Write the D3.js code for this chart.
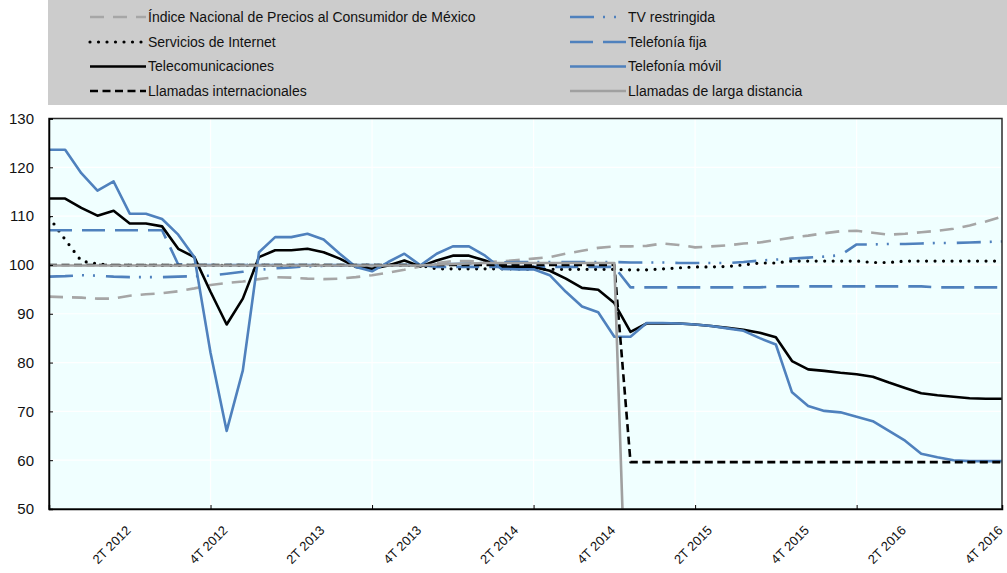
<!DOCTYPE html>
<html>
<head>
<meta charset="utf-8">
<script src="https://cdn.jsdelivr.net/npm/d3@7"></script>
<style>
  body { margin: 0; background: #fff; }
  svg { display: block; font-family: "Liberation Sans", Arial, sans-serif; }
</style>
</head>
<body>
<svg id="chart"></svg>
<script>
// periodos mensuales
const periodos = [
  "2012-01","2012-02","2012-03","2012-04","2012-05","2012-06","2012-07","2012-08","2012-09","2012-10","2012-11","2012-12",
  "2013-01","2013-02","2013-03","2013-04","2013-05","2013-06","2013-07","2013-08","2013-09","2013-10","2013-11","2013-12",
  "2014-01","2014-02","2014-03","2014-04","2014-05","2014-06","2014-07","2014-08","2014-09","2014-10","2014-11","2014-12",
  "2015-01","2015-02","2015-03","2015-04","2015-05","2015-06","2015-07","2015-08","2015-09","2015-10","2015-11","2015-12",
  "2016-01","2016-02","2016-03","2016-04","2016-05","2016-06","2016-07","2016-08","2016-09","2016-10","2016-11","2016-12"
];

// etiquetas del eje x
const mesesEtiqueta = ["2012-06","2012-12","2013-06","2013-12","2014-06","2014-12","2015-06","2015-12","2016-06","2016-12"];
const etiquetas = ["2T 2012","4T 2012","2T 2013","4T 2013","2T 2014","4T 2014","2T 2015","4T 2015","2T 2016","4T 2016"];
const marcasEje = ["2012-11","2013-09","2014-07","2015-05","2016-03"];
const yTicks = [50, 60, 70, 80, 90, 100, 110, 120, 130];

// series
const inpc = [
  93.5,93.4,93.3,93.1,93.1,93.7,94.0,94.2,94.6,95.2,
  95.9,96.3,96.6,97.1,97.5,97.4,97.2,97.1,97.2,97.5,
  97.9,98.4,99.0,99.7,100.4,100.8,100.8,100.6,100.7,101.0,
  101.3,101.6,102.3,102.9,103.5,103.8,103.8,103.9,104.4,104.1,
  103.6,103.8,104.0,104.4,104.6,105.1,105.6,106.0,106.5,106.9,
  107.0,106.6,106.2,106.4,106.7,107.0,107.4,108.1,108.9,109.9
];
const tvRestringida = [
  97.6,97.7,97.9,97.8,97.6,97.5,97.5,97.5,97.6,97.7,
  97.8,98.2,98.6,99.0,99.3,99.5,99.7,99.8,99.9,100.0,
  100.0,100.0,100.0,100.0,100.1,100.2,100.3,100.4,100.5,100.6,
  100.6,100.6,100.6,100.6,100.6,100.6,100.5,100.5,100.5,100.4,
  100.4,100.4,100.4,100.6,100.9,101.1,101.3,101.5,101.7,102.0,
  104.2,104.2,104.3,104.3,104.4,104.5,104.5,104.6,104.7,104.8
];
const internet = [
  109.8,105.2,100.8,100.2,99.9,99.9,99.9,99.9,99.9,99.9,
  99.9,99.9,99.9,99.9,99.9,99.9,99.9,99.9,99.9,99.9,
  99.9,99.9,99.9,99.9,99.2,99.2,99.2,99.2,99.2,99.2,
  99.1,99.1,99.1,99.1,99.1,99.1,99.0,99.0,99.2,99.4,
  99.6,99.6,99.7,100.0,100.4,100.4,100.8,100.8,100.8,100.8,
  100.8,100.5,100.5,100.8,100.8,100.8,100.8,100.8,100.8,100.8
];
const telefoniaFija = [
  107.1,107.1,107.1,107.1,107.1,107.1,107.1,107.1,100.1,100.0,
  100.0,100.0,100.0,100.0,100.0,100.0,100.0,100.0,100.0,100.0,
  100.0,100.0,100.0,100.0,99.6,99.6,99.6,99.6,99.6,99.6,
  99.6,99.6,99.6,99.6,99.6,99.6,95.4,95.4,95.4,95.4,
  95.4,95.4,95.4,95.4,95.4,95.6,95.6,95.6,95.6,95.6,
  95.6,95.6,95.6,95.6,95.6,95.4,95.4,95.4,95.4,95.4
];
const telecom = [
  113.6,113.6,111.7,110.1,111.1,108.5,108.5,107.9,103.3,101.6,
  94.5,87.8,93.1,101.6,103.0,103.0,103.3,102.6,101.3,99.6,
  99.2,99.9,100.9,99.7,100.9,101.9,101.9,100.9,99.6,99.6,
  99.6,98.8,97.2,95.3,94.9,92.2,86.3,88.0,88.0,88.0,
  87.8,87.5,87.1,86.7,86.1,85.2,80.3,78.6,78.3,77.9,
  77.6,77.1,75.9,74.8,73.7,73.3,73.0,72.7,72.6,72.6
];
const telefoniaMovil = [
  123.6,123.6,118.8,115.2,117.1,110.5,110.5,109.4,106.2,101.6,
  82.0,66.0,78.4,102.6,105.7,105.7,106.4,105.2,102.3,99.6,
  98.7,100.6,102.3,99.9,102.3,103.8,103.8,101.9,99.2,99.1,
  99.1,97.9,94.5,91.5,90.3,85.3,85.3,88.1,88.1,88.0,
  87.8,87.5,87.0,86.5,85.0,83.7,73.9,71.1,70.1,69.8,
  68.9,68.0,66.0,64.0,61.3,60.6,60.0,59.8,59.8,59.8
];
const internacionales = [
  100,100,100,100,100,100,100,100,100,100,
  100,100,100,100,100,100,100,100,100,100,
  100,100,100,100,100,100,100,100,100,100,
  100,100,100,100,100,100,59.6,59.6,59.6,59.6,
  59.6,59.6,59.6,59.6,59.6,59.6,59.6,59.6,59.6,59.6,
  59.6,59.6,59.6,59.6,59.6,59.6,59.6,59.6,59.6,59.6
];
const largaDistancia = [
  99.9,99.9,99.9,99.9,99.9,99.9,99.9,99.9,99.9,99.9,
  99.9,99.9,99.9,99.9,99.9,99.9,99.9,99.9,99.9,99.9,
  99.9,99.9,99.9,99.9,100.1,100.2,100.3,100.4,100.4,100.4,
  100.4,100.4,100.4,100.4,100.4,100.4,0,0,0,0,
  0,0,0,0,0,0,0,0,0,0,
  0,0,0,0,0,0,0,0,0,0
];

// orden de la leyenda (por filas)
const series = [
  { name: "Índice Nacional de Precios al Consumidor de México", values: inpc, color: "#A6A6A6", dash: "14,9", cap: "butt", width: 2.6 },
  { name: "TV restringida", values: tvRestringida, color: "#4F81BD", dash: "24,9,2,9,2,11", cap: "butt", width: 2.6 },
  { name: "Servicios de Internet", values: internet, color: "#000", dash: "0,8.5", cap: "round", width: 3.2 },
  { name: "Telefonía fija", values: telefoniaFija, color: "#4F81BD", dash: "23,10", cap: "butt", width: 2.6 },
  { name: "Telecomunicaciones", values: telecom, color: "#000", dash: null, cap: "butt", width: 2.6 },
  { name: "Telefonía móvil", values: telefoniaMovil, color: "#4F81BD", dash: null, cap: "butt", width: 2.6 },
  { name: "Llamadas internacionales", values: internacionales, color: "#000", dash: "8,4.5", cap: "butt", width: 2.6 },
  { name: "Llamadas de larga distancia", values: largaDistancia, color: "#A0A0A0", dash: null, cap: "butt", width: 2.6 }
];

const W = 1007, H = 573;
const plot = { left: 49, right: 1002, top: 118.5, bottom: 509 };

const svg = d3.select("#chart").attr("width", W).attr("height", H);

// Leyenda
svg.append("rect")
  .attr("x", 48).attr("y", 0)
  .attr("width", W - 48).attr("height", 105)
  .attr("fill", "#CCCCCC");

const legendCols = [90, 570];
const legendRows = [17, 42, 66.5, 91];

const legend = svg.append("g").attr("class", "legend");
series.forEach((s, i) => {
  const lx = legendCols[i % 2];
  const ly = legendRows[Math.floor(i / 2)];
  const g = legend.append("g").attr("transform", `translate(${lx},${ly})`);
  g.append("line")
    .attr("x1", 0).attr("x2", 56)
    .attr("y1", 0).attr("y2", 0)
    .attr("stroke", s.color)
    .attr("stroke-width", s.width)
    .attr("stroke-dasharray", s.dash)
    .attr("stroke-linecap", s.cap);
  g.append("text")
    .attr("x", 58).attr("y", 0).attr("dy", "0.35em")
    .attr("font-size", "14px")
    .attr("fill", "#111")
    .text(s.name);
});

// Escalas
const x = d3.scalePoint()
  .domain(periodos)
  .range([plot.left, plot.right]);

const y = d3.scaleLinear()
  .domain([50, 130])
  .range([plot.bottom, plot.top]);

// Fondo del área de trazado
svg.append("rect")
  .attr("x", plot.left).attr("y", plot.top)
  .attr("width", plot.right - plot.left).attr("height", plot.bottom - plot.top)
  .attr("fill", "#F0FFFF");

// Rejilla
svg.append("g")
  .selectAll("line.hgrid")
  .data(yTicks.filter(d => d > 50 && d < 130))
  .join("line")
  .attr("x1", plot.left).attr("x2", plot.right)
  .attr("y1", d => y(d)).attr("y2", d => y(d))
  .attr("stroke", "#fff").attr("stroke-width", 1.2);

svg.append("g")
  .selectAll("line.vgrid")
  .data(marcasEje)
  .join("line")
  .attr("x1", d => x(d)).attr("x2", d => x(d))
  .attr("y1", plot.top).attr("y2", plot.bottom)
  .attr("stroke", "#fff").attr("stroke-width", 1.2);

// Líneas
svg.append("clipPath").attr("id", "clip")
  .append("rect")
  .attr("x", plot.left).attr("y", plot.top)
  .attr("width", plot.right - plot.left).attr("height", plot.bottom - plot.top);

const line = d3.line()
  .x((d, i) => x(periodos[i]))
  .y(d => y(d));

svg.append("g")
  .attr("clip-path", "url(#clip)")
  .selectAll("path")
  .data(series)
  .join("path")
  .attr("d", d => line(d.values))
  .attr("fill", "none")
  .attr("stroke", d => d.color)
  .attr("stroke-width", d => d.width)
  .attr("stroke-dasharray", d => d.dash)
  .attr("stroke-linecap", d => d.cap)
  .attr("stroke-linejoin", "round");

// Marco
svg.append("rect")
  .attr("x", plot.left).attr("y", plot.top)
  .attr("width", plot.right - plot.left).attr("height", plot.bottom - plot.top)
  .attr("fill", "none")
  .attr("stroke", "#2b2b2b").attr("stroke-width", 1.5);

// Eje Y
const yAxis = svg.append("g")
  .attr("transform", `translate(${plot.left},0)`)
  .call(d3.axisLeft(y).tickValues(yTicks).tickSize(-4).tickPadding(15));
yAxis.select(".domain").attr("stroke", "#000").attr("stroke-width", 1.5);
yAxis.selectAll(".tick line").attr("stroke", "#000");
yAxis.selectAll(".tick text")
  .attr("font-size", "15px")
  .attr("fill", "#111")
  .attr("font-family", "'Liberation Sans', Arial, sans-serif");

// Eje X: marcas
const xTicksG = svg.append("g")
  .attr("transform", `translate(0,${plot.bottom})`)
  .call(d3.axisBottom(x).tickValues(marcasEje).tickSize(-4).tickFormat(""));
xTicksG.select(".domain").attr("stroke", "#000").attr("stroke-width", 1.5);
xTicksG.selectAll(".tick line").attr("stroke", "#000");

// Eje X: etiquetas
const xLab = svg.append("g")
  .attr("transform", `translate(0,${plot.bottom})`)
  .call(d3.axisBottom(x).tickValues(mesesEtiqueta).tickSize(0)
    .tickFormat(d => etiquetas[mesesEtiqueta.indexOf(d)]));
xLab.select(".domain").remove();
xLab.selectAll(".tick text")
  .attr("x", 0).attr("y", 0).attr("dy", "0.35em")
  .attr("text-anchor", "end")
  .attr("transform", "translate(-2,19) rotate(-45)")
  .attr("font-size", "13px")
  .attr("fill", "#111")
  .attr("font-family", "'Liberation Sans', Arial, sans-serif");
</script>
</body>
</html>
